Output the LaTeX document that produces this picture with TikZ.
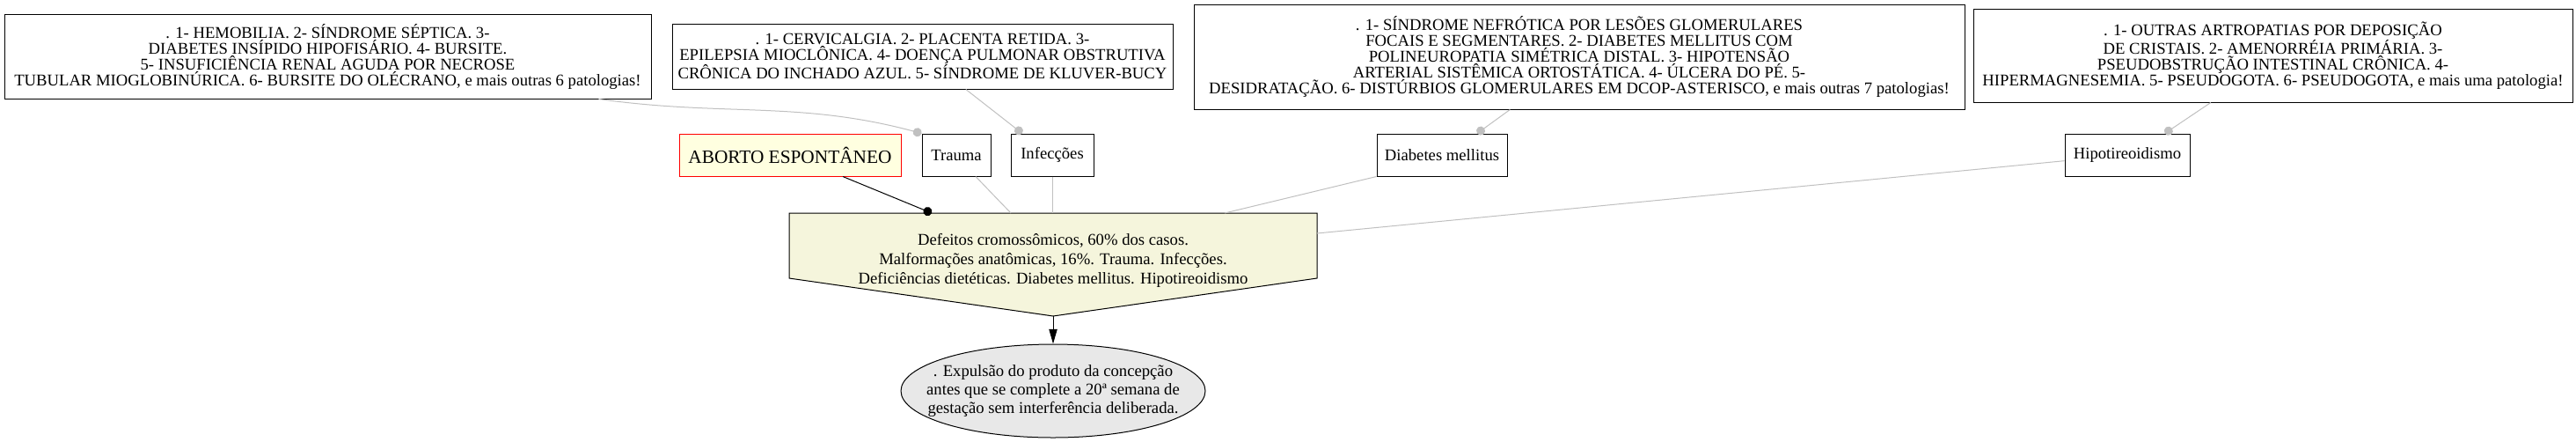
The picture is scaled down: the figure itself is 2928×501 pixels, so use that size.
\documentclass[tikz,border=0pt]{standalone}
\usepackage{fontspec}
\setmainfont{Liberation Serif}
\usetikzlibrary{arrows.meta,shapes.geometric}
\definecolor{beigefill}{HTML}{F5F5DC}
\definecolor{lyellow}{HTML}{FFFFE0}
\definecolor{linegray}{HTML}{C0C0C0}
\definecolor{ellfill}{HTML}{E8E8E8}
\tikzset{
  detail/.style={draw=black, line width=0.75pt, fill=white, inner sep=0pt, align=center,
    font=\fontsize{14}{13.5}\selectfont},
  small/.style={draw=black, line width=0.75pt, fill=white, inner sep=0pt, align=center,
    minimum height=36pt, font=\fontsize{14}{16}\selectfont},
  gline/.style={draw=linegray, line width=0.75pt},
  gdot/.style={gline, -{Circle[length=7.5pt, fill=linegray]}},
  bdot/.style={draw=black, line width=0.75pt, -{Circle[length=7.5pt, fill=black]}},
  barrow/.style={draw=black, line width=0.75pt, -{Triangle[length=12.5pt, width=7pt, fill=black]}}
}
\begin{document}
\begin{tikzpicture}[x=0.75pt, y=-0.75pt]
\useasboundingbox (0,0) rectangle (2928,501);
% detail boxes
\node[detail, minimum width=551.25pt, minimum height=72pt] (box1) at (372.5,64)
  {. 1- HEMOBILIA. 2- SÍNDROME SÉPTICA. 3-\\DIABETES INSÍPIDO HIPOFISÁRIO. 4- BURSITE.\\5- INSUFICIÊNCIA RENAL AGUDA POR NECROSE\\TUBULAR MIOGLOBINÚRICA. 6- BURSITE DO OLÉCRANO, e mais outras 6 patologias!};
\node[detail, minimum width=426.75pt, minimum height=55.5pt] (box2) at (1048.5,64)
  {. 1- CERVICALGIA. 2- PLACENTA RETIDA. 3-\\EPILEPSIA MIOCLÔNICA. 4- DOENÇA PULMONAR OBSTRUTIVA\\CRÔNICA DO INCHADO AZUL. 5- SÍNDROME DE KLUVER-BUCY};
\node[detail, minimum width=657pt, minimum height=89.25pt] (box3) at (1795,64.5)
  {. 1- SÍNDROME NEFRÓTICA POR LESÕES GLOMERULARES\\FOCAIS E SEGMENTARES. 2- DIABETES MELLITUS COM\\POLINEUROPATIA SIMÉTRICA DISTAL. 3- HIPOTENSÃO\\ARTERIAL SISTÊMICA ORTOSTÁTICA. 4- ÚLCERA DO PÉ. 5-\\DESIDRATAÇÃO. 6- DISTÚRBIOS GLOMERULARES EM DCOP-ASTERISCO, e mais outras 7 patologias!};
\node[detail, minimum width=510.75pt, minimum height=79.5pt] (box4) at (2583.5,63)
  {. 1- OUTRAS ARTROPATIAS POR DEPOSIÇÃO\\DE CRISTAIS. 2- AMENORRÉIA PRIMÁRIA. 3-\\PSEUDOBSTRUÇÃO INTESTINAL CRÔNICA. 4-\\HIPERMAGNESEMIA. 5- PSEUDOGOTA. 6- PSEUDOGOTA, e mais uma patologia!};
% small boxes
\node[small, draw=red, fill=lyellow, minimum width=189pt, font=\fontsize{16}{18}\selectfont] (aborto) at (898,176) {ABORTO ESPONTÂNEO};
\node[small, minimum width=58.5pt] (trauma) at (1087,176) {Trauma};
\node[small, minimum width=70.5pt] (infec) at (1196,176) {Infecções};
\node[small, minimum width=111pt] (diab) at (1639,176) {Diabetes mellitus};
\node[small, minimum width=106.5pt] (hipo) at (2418,176) {Hipotireoidismo};
% central polygon
\coordinate (pTL) at (897,242);
\coordinate (pTR) at (1497,242);
\coordinate (pR) at (1497,316);
\coordinate (tip) at (1197,359);
\coordinate (pL) at (897,316);
\coordinate (pA) at (1059,242);
\coordinate (pB) at (1149,242);
\coordinate (pC) at (1196,242);
\coordinate (pD) at (1392,242);
\coordinate (pE) at (1497,265);
\draw[line width=0.75pt, fill=beigefill] (pTL) -- (pTR) -- (pR) -- (tip) -- (pL) -- cycle;
\node[align=center, inner sep=0pt, font=\fontsize{14}{16.5}\selectfont] (cause) at (1197,296)
  {Defeitos cromossômicos, 60\% dos casos.\\Malformações anatômicas, 16\%. Trauma. Infecções.\\Deficiências dietéticas. Diabetes mellitus. Hipotireoidismo};
% ellipse
\node[ellipse, draw=black, line width=0.75pt, fill=ellfill, inner sep=0pt, minimum width=259.5pt, minimum height=79.5pt] (expul) at (1197,444) {};
\node[align=center, inner sep=0pt, font=\fontsize{14}{15.75}\selectfont] (expultext) at (expul.center)
  {. Expulsão do produto da concepção\\antes que se complete a 20ª semana de\\gestação sem interferência deliberada.};
% connectors
\draw[gdot] ([xshift=-45pt]box1.south east) to[out=-8, in=165] (trauma.north west);
\draw[gdot] ([xshift=37pt]box2.south) -- ([xshift=10pt]infec.north west);
\draw[gdot] ([xshift=-59pt]box3.south) -- ([xshift=30pt]diab.north);
\draw[gdot] ([xshift=-53pt]box4.south) -- ([xshift=32pt]hipo.north);
\draw[bdot] ([xshift=45pt]aborto.south) -- (pA);
\draw[gline] ([xshift=16.5pt]trauma.south) -- (pB);
\draw[gline] (infec.south) -- (pC);
\draw[gline] (diab.south west) -- (pD);
\draw[gline] ([yshift=-5pt]hipo.west) -- (pE);
\draw[barrow] (tip) -- (expul.north);
\end{tikzpicture}
\end{document}
